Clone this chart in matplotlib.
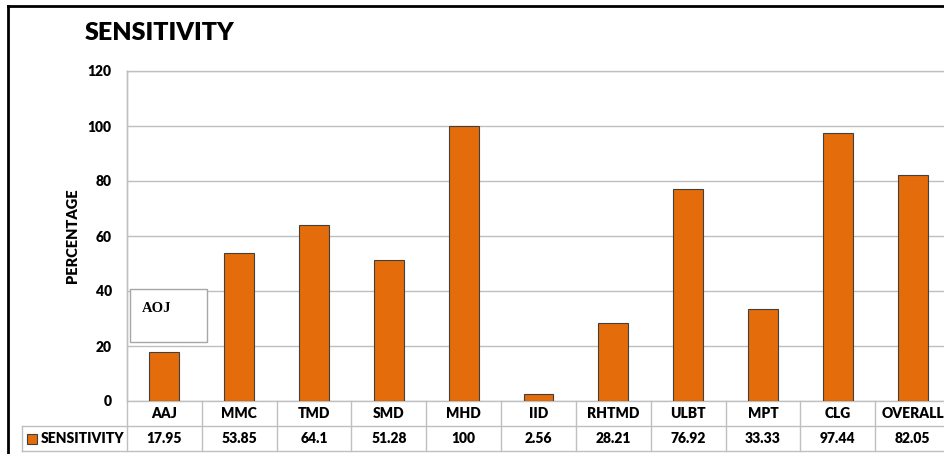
import matplotlib
matplotlib.use("Agg")
import matplotlib.pyplot as plt
import matplotlib.transforms as mtransforms
from matplotlib.lines import Line2D
from matplotlib.patches import Rectangle

categories = ["AAJ", "MMC", "TMD", "SMD", "MHD", "IID", "RHTMD", "ULBT", "MPT", "CLG", "OVERALL"]
sensitivity = [17.95, 53.85, 64.1, 51.28, 100, 2.56, 28.21, 76.92, 33.33, 97.44, 82.05]
value_labels = ["17.95", "53.85", "64.1", "51.28", "100", "2.56", "28.21", "76.92", "33.33", "97.44", "82.05"]
series_name = "SENSITIVITY"
y_ticks = [0, 20, 40, 60, 80, 100, 120]

ORANGE = "#E46C0A"
GRID = "#bfbfbf"
FONT = "Lato"
FS = 10

W, H = 944, 454
fig = plt.figure(figsize=(W / 100, H / 100), dpi=100)
fig.patch.set_facecolor("white")

# plot area in pixel terms
ax_l, ax_b, ax_w, ax_h = 127, 53, 823, 330
ax = fig.add_axes([ax_l / W, ax_b / H, ax_w / W, ax_h / H])

x = list(range(len(categories)))
ax.bar(x, sensitivity, width=0.4, color=ORANGE, edgecolor="#404040", linewidth=0.8, zorder=3)

ax.set_xlim(-0.5, len(categories) - 0.5)
ax.set_ylim(0, 120)
ax.set_yticks(y_ticks)
ax.set_yticklabels([str(t) for t in y_ticks], fontsize=FS, fontweight="heavy", family=FONT)
ax.tick_params(axis="y", length=0, pad=11)
ax.set_xticks([])
ax.yaxis.grid(True, color=GRID, linewidth=1, zorder=0)
ax.set_axisbelow(True)
for name, spine in ax.spines.items():
    spine.set_color(GRID)
    spine.set_linewidth(1)
ax.spines["right"].set_visible(False)

ax.set_ylabel("PERCENTAGE", fontsize=10.5, fontweight="heavy", family=FONT, labelpad=6)

# data table under the axis
rh = 25 / ax_h
leg_left = -105 / ax_w
blend = mtransforms.blended_transform_factory(ax.transData, ax.transAxes)

def hline(y, x0, x1):
    ax.add_line(Line2D([x0, x1], [y, y], transform=ax.transAxes, color=GRID,
                       linewidth=1, clip_on=False))

hline(-rh, leg_left, 1.01)
hline(-2 * rh, leg_left, 1.01)
ax.add_line(Line2D([leg_left, leg_left], [-rh, -2 * rh], transform=ax.transAxes,
                   color=GRID, linewidth=1, clip_on=False))
for i in range(len(categories) + 1):
    top = 1 if i == 0 else 0
    ax.add_line(Line2D([i - 0.5, i - 0.5], [top, -2 * rh], transform=blend,
                       color=GRID, linewidth=1, clip_on=False))

for i, (cat, lab) in enumerate(zip(categories, value_labels)):
    ax.text(i, -rh / 2, cat, transform=blend, ha="center", va="center",
            fontsize=FS, fontweight="heavy", family=FONT)
    ax.text(i, -1.5 * rh, lab, transform=blend, ha="center", va="center",
            fontsize=FS, fontweight="heavy", family=FONT)

# legend key inside the table
key_w = 10 / ax_w
key_h = 10 / ax_h
ax.add_patch(Rectangle((-100 / ax_w, -1.5 * rh - key_h / 2), key_w, key_h,
                       transform=ax.transAxes, facecolor=ORANGE, edgecolor="#404040",
                       linewidth=0.8, clip_on=False))
ax.text(-86 / ax_w, -1.5 * rh, series_name, transform=ax.transAxes, ha="left",
        va="center", fontsize=FS, fontweight="heavy", family=FONT)

# AOJ note box
ax.add_patch(Rectangle((130 / W, (H - 342) / H), 77 / W, 53 / H, transform=fig.transFigure,
                       facecolor="white", edgecolor="#a6a6a6", linewidth=1, zorder=5))
fig.text(142 / W, (H - 308) / H, "AOJ", fontsize=10.5, fontweight="bold",
         family="Liberation Serif", ha="left", va="center", zorder=6)

# title
fig.text(85 / W, (H - 33) / H, "SENSITIVITY", fontsize=18, fontweight="heavy",
         family=FONT, ha="left", va="center")

# outer chart frame
fig.add_artist(Line2D([8 / W, 8 / W], [0, (H - 6) / H], transform=fig.transFigure,
                      color="black", linewidth=2))
fig.add_artist(Line2D([8 / W, 1], [(H - 6) / H, (H - 6) / H], transform=fig.transFigure,
                      color="black", linewidth=2))

fig.savefig("out.png", dpi=100)
